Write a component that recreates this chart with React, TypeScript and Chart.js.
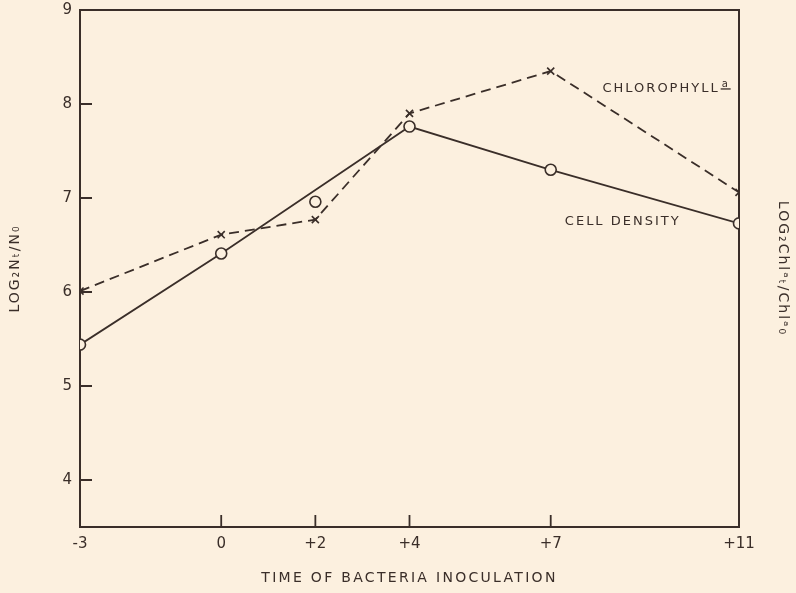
import React, { useEffect, useRef } from "react";
import { Chart, registerables } from "chart.js";
Chart.register(...registerables);

// ---- data ----
const times = [-3, 0, 2, 4, 7, 11];
const timeTickLabels = ["-3", "0", "+2", "+4", "+7", "+11"];
const cellDensity = [5.44, 6.41, 6.96, 7.76, 7.3, 6.73];
const cellDensityOnLine = [true, true, false, true, true, true];
const chlorophyll = [6.01, 6.61, 6.77, 7.9, 8.35, 7.06];
const yTicks = [4, 5, 6, 7, 8, 9];
const chlLabelAt = { x: 8.1, y: 8.16 };
const cellLabelAt = { x: 7.3, y: 6.75 };

const INK = "#3a2e29";
const BG = "#fcf0df";
const FONT = "'DejaVu Sans', sans-serif";

function spaceTitle(scale: any, spacing: string) {
  if (!scale || scale.__spaced) return;
  const orig = scale.drawTitle;
  scale.drawTitle = function (...args: any[]) {
    const ctx = this.ctx;
    const prev = ctx.letterSpacing;
    ctx.letterSpacing = spacing;
    orig.apply(this, args);
    ctx.letterSpacing = prev || "0px";
  };
  scale.__spaced = true;
}

const paperPlugin = {
  id: "paper",
  beforeDraw(chart: any) {
    const ctx = chart.ctx;
    ctx.fillStyle = BG;
    ctx.fillRect(0, 0, chart.width, chart.height);
    spaceTitle(chart.scales.x, "2.3px");
    spaceTitle(chart.scales.y, "2px");
    spaceTitle(chart.scales.y2, "2px");
  },
  beforeDatasetsDraw(chart: any) {
    const { ctx, chartArea: a, scales } = chart;
    ctx.save();
    ctx.strokeStyle = INK;
    ctx.lineWidth = 2;
    ctx.strokeRect(a.left, a.top, a.right - a.left, a.bottom - a.top);
    ctx.lineWidth = 1.8;
    ctx.beginPath();
    for (const v of yTicks) {
      if (v === 9) continue;
      const y = scales.y.getPixelForValue(v);
      ctx.moveTo(a.left, y);
      ctx.lineTo(a.left + 12, y);
    }
    for (const t of times) {
      if (t === times[0] || t === times[times.length - 1]) continue;
      const x = scales.x.getPixelForValue(t);
      ctx.moveTo(x, a.bottom);
      ctx.lineTo(x, a.bottom - 12);
    }
    ctx.stroke();

    // annotations
    ctx.fillStyle = INK;
    ctx.font = "13px " + FONT;
    ctx.textBaseline = "middle";
    ctx.textAlign = "left";
    (ctx as any).letterSpacing = "2px";
    const cx = scales.x.getPixelForValue(chlLabelAt.x);
    const cy = scales.y.getPixelForValue(chlLabelAt.y);
    const txt = "CHLOROPHYLL";
    ctx.fillText(txt, cx, cy);
    const w = ctx.measureText(txt).width;
    ctx.font = "10px " + FONT;
    ctx.fillText("a", cx + w + 2, cy - 5);
    ctx.lineWidth = 1.3;
    ctx.beginPath();
    ctx.moveTo(cx + w + 1, cy);
    ctx.lineTo(cx + w + 11, cy);
    ctx.stroke();

    ctx.font = "13px " + FONT;
    ctx.fillText(
      "CELL DENSITY",
      scales.x.getPixelForValue(cellLabelAt.x),
      scales.y.getPixelForValue(cellLabelAt.y)
    );
    (ctx as any).letterSpacing = "0px";
    ctx.restore();
  },
};

export default function App() {
  const ref = useRef<HTMLCanvasElement>(null);
  useEffect(() => {
    if (!ref.current) return;
    const all = times.map((t, i) => ({ x: t, y: cellDensity[i], on: cellDensityOnLine[i] }));
    const linePts = all.filter((p) => p.on).map((p) => ({ x: p.x, y: p.y }));
    const offPts = all.filter((p) => !p.on).map((p) => ({ x: p.x, y: p.y }));
    const chlPts = times.map((t, i) => ({ x: t, y: chlorophyll[i] }));

    const chart = new Chart(ref.current, {
      type: "line",
      data: {
        datasets: [
          {
            label: "Chlorophyll a",
            data: chlPts,
            borderColor: INK,
            borderWidth: 1.8,
            borderDash: [10, 6],
            pointStyle: "crossRot",
            pointRadius: 5,
            pointBorderColor: INK,
            pointBorderWidth: 1.6,
            fill: false,
          },
          {
            label: "Cell density",
            data: linePts,
            borderColor: INK,
            borderWidth: 1.8,
            pointStyle: "circle",
            pointRadius: 5.5,
            pointBackgroundColor: BG,
            pointBorderColor: INK,
            pointBorderWidth: 1.6,
            fill: false,
          },
          {
            label: "Cell density (off line)",
            data: offPts,
            showLine: false,
            pointStyle: "circle",
            pointRadius: 5.5,
            pointBackgroundColor: BG,
            pointBorderColor: INK,
            pointBorderWidth: 1.6,
          },
        ],
      },
      options: {
        animation: false,
        responsive: false,
        layout: { padding: { top: 10, left: 0, right: 0, bottom: 0 } },
        plugins: { legend: { display: false }, tooltip: { enabled: false } },
        scales: {
          x: {
            type: "linear",
            min: -3,
            max: 11,
            afterBuildTicks: (s: any) => {
              s.ticks = times.map((v) => ({ value: v }));
            },
            afterFit: (s: any) => {
              s.height = 66;
              s.paddingLeft = 0;
              s.paddingRight = 0;
            },
            ticks: {
              callback: (v: any) => timeTickLabels[times.indexOf(v)],
              font: { family: FONT, size: 15 },
              color: INK,
              padding: 8,
              maxRotation: 0,
              autoSkip: false,
            },
            grid: { display: false, drawTicks: false },
            border: { display: false },
            title: {
              display: true,
              text: "TIME OF BACTERIA INOCULATION",
              font: { family: FONT, size: 14 },
              color: INK,
              padding: { top: 0, bottom: 6 },
            },
          },
          y: {
            position: "left",
            min: 3.5,
            max: 9,
            afterBuildTicks: (s: any) => {
              s.ticks = yTicks.map((v) => ({ value: v }));
            },
            afterFit: (s: any) => {
              s.width = 80;
              s.paddingTop = 0;
              s.paddingBottom = 0;
            },
            ticks: {
              font: { family: FONT, size: 15 },
              color: INK,
              padding: 8,
            },
            grid: { display: false, drawTicks: false },
            border: { display: false },
            title: {
              display: true,
              text: "LOG₂Nₜ/N₀",
              font: { family: FONT, size: 14 },
              color: INK,
              padding: { top: 7, bottom: 0 },
            },
          },
          y2: {
            position: "right",
            min: 3.5,
            max: 9,
            afterFit: (s: any) => {
              s.width = 57;
              s.paddingTop = 0;
              s.paddingBottom = 0;
            },
            ticks: { display: false },
            grid: { display: false, drawTicks: false },
            border: { display: false },
            title: {
              display: true,
              text: "LOG₂Chlᵃₜ/Chlᵃ₀",
              font: { family: FONT, size: 14 },
              color: INK,
              padding: { top: 5, bottom: 0 },
            },
          },
        },
      },
      plugins: [paperPlugin],
    });
    return () => chart.destroy();
  }, []);

  return (
    <div style={{ position: "fixed", left: 0, top: 0, width: 796, height: 593 }}>
      <canvas ref={ref} width={796} height={593} style={{ display: "block" }} />
    </div>
  );
}
